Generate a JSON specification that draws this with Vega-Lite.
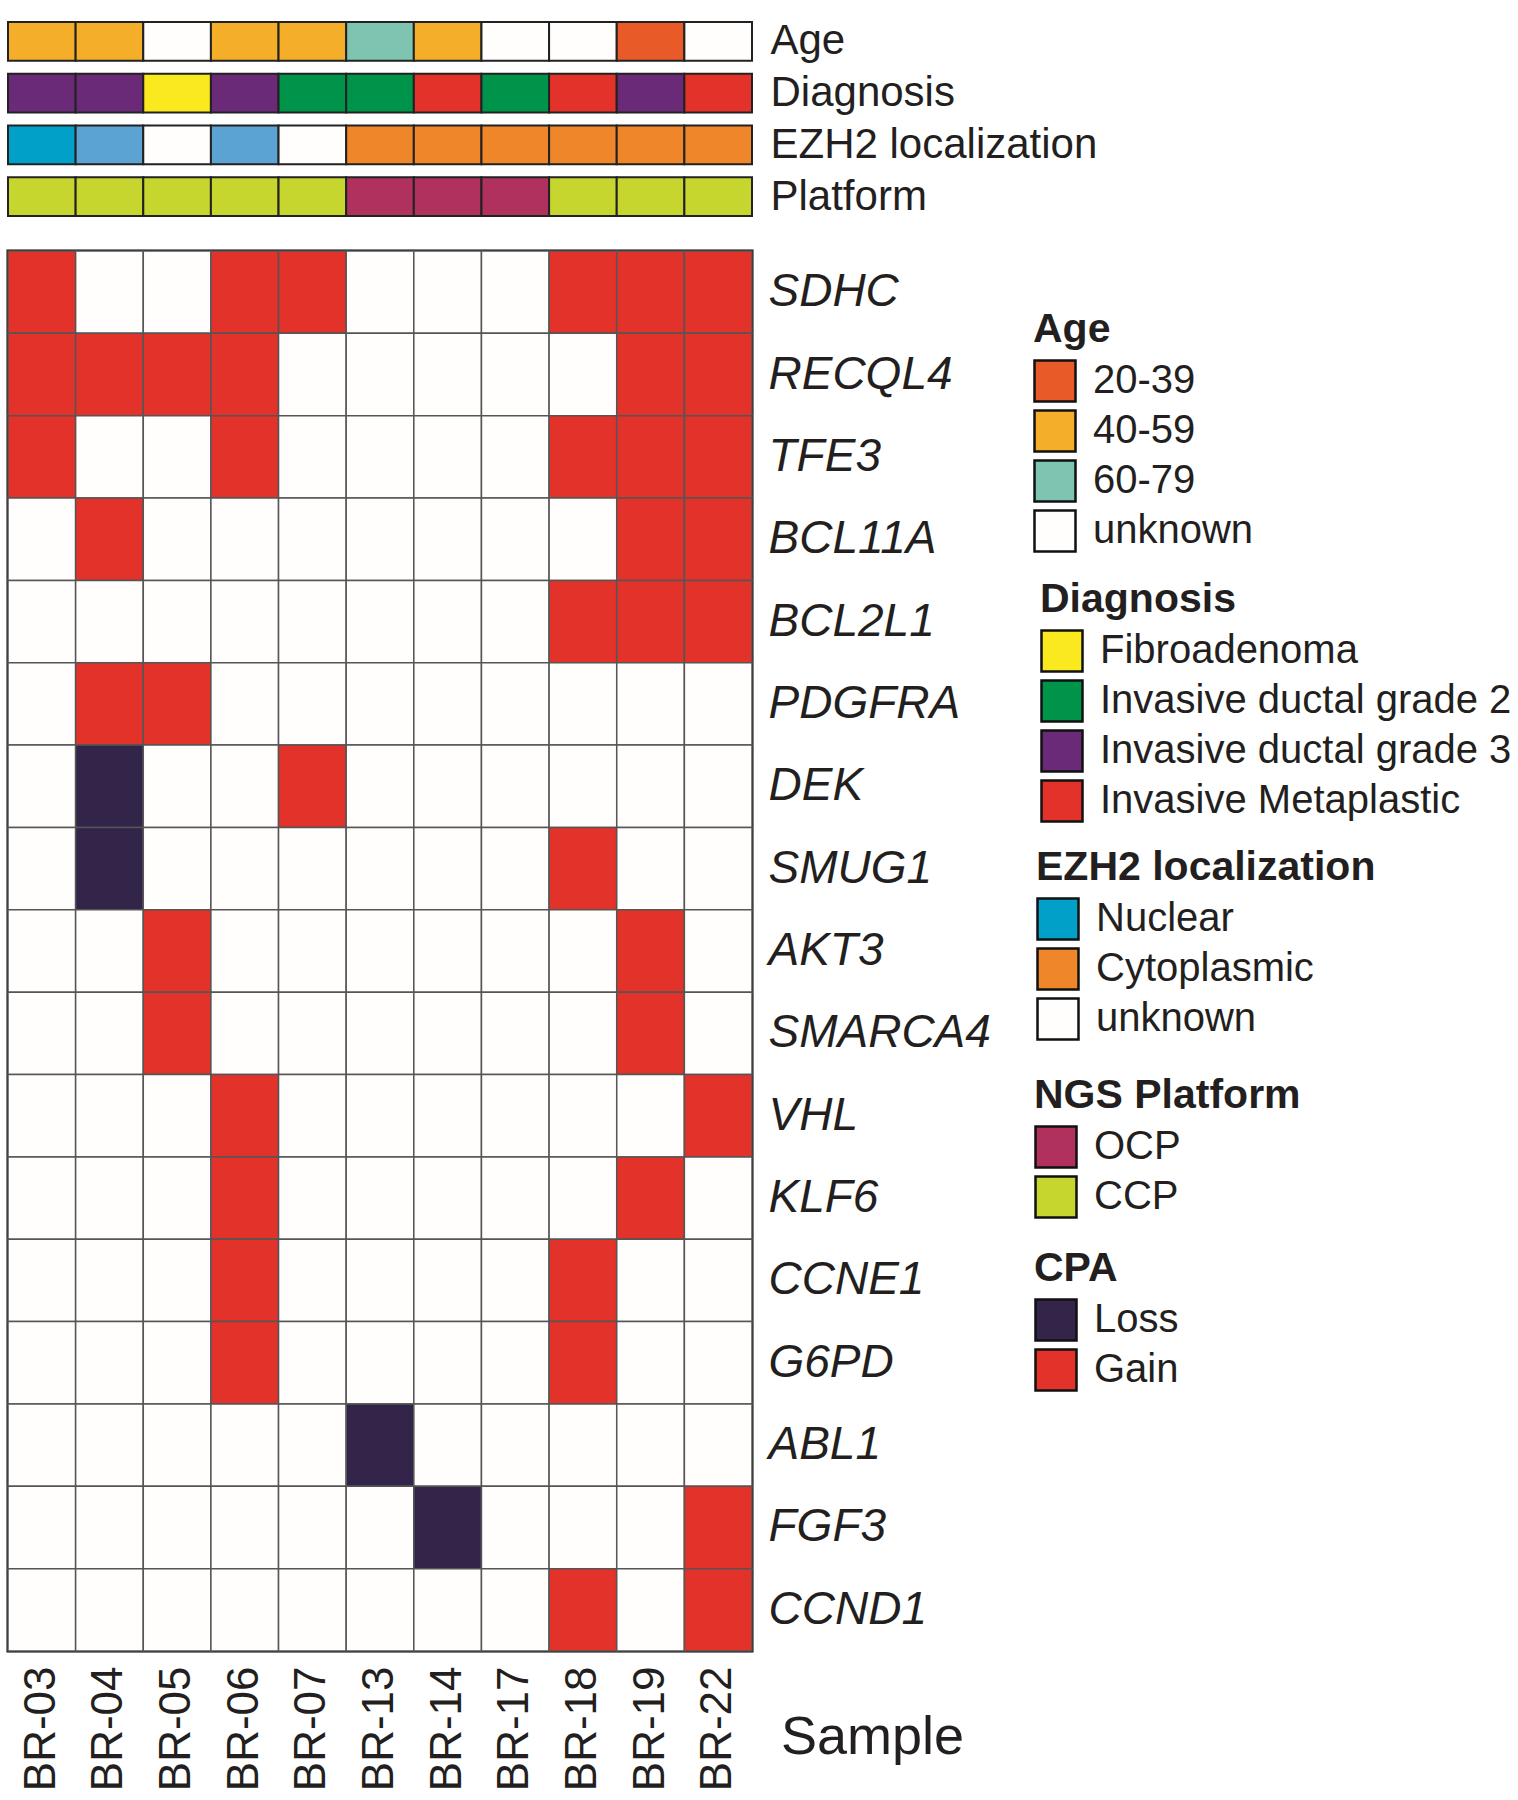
{
  "$schema": "https://vega.github.io/schema/vega-lite/v6.json",
  "background": "white",
  "padding": {"left": 5, "top": 19, "right": 0, "bottom": 0},
  "bounds": "flush",
  "spacing": 35,
  "config": {
    "font": "Liberation Sans",
    "view": {"stroke": null},
    "legend": {
      "titleFontSize": 41,
      "titleFontWeight": "bold",
      "titleColor": "#231f20",
      "labelFontSize": 40,
      "labelColor": "#231f20",
      "symbolType": "square",
      "symbolSize": 1681,
      "symbolStrokeColor": "#111111",
      "symbolStrokeWidth": 2.5,
      "symbolOpacity": 1,
      "labelOffset": 16,
      "rowPadding": -2,
      "titlePadding": 8,
      "labelLimit": 700,
      "titleLimit": 700,
      "padding": 0
    }
  },
  "resolve": {"scale": {"color": "independent"}},
  "vconcat": [
    {
      "width": 744,
      "height": 194,
      "data": {"values": [
        {"sample": "BR-03", "track": "Age", "status": "40-59"},
        {"sample": "BR-04", "track": "Age", "status": "40-59"},
        {"sample": "BR-05", "track": "Age", "status": "unknown"},
        {"sample": "BR-06", "track": "Age", "status": "40-59"},
        {"sample": "BR-07", "track": "Age", "status": "40-59"},
        {"sample": "BR-13", "track": "Age", "status": "60-79"},
        {"sample": "BR-14", "track": "Age", "status": "40-59"},
        {"sample": "BR-17", "track": "Age", "status": "unknown"},
        {"sample": "BR-18", "track": "Age", "status": "unknown"},
        {"sample": "BR-19", "track": "Age", "status": "20-39"},
        {"sample": "BR-22", "track": "Age", "status": "unknown"},
        {"sample": "BR-03", "track": "Diagnosis", "status": "Invasive ductal grade 3"},
        {"sample": "BR-04", "track": "Diagnosis", "status": "Invasive ductal grade 3"},
        {"sample": "BR-05", "track": "Diagnosis", "status": "Fibroadenoma"},
        {"sample": "BR-06", "track": "Diagnosis", "status": "Invasive ductal grade 3"},
        {"sample": "BR-07", "track": "Diagnosis", "status": "Invasive ductal grade 2"},
        {"sample": "BR-13", "track": "Diagnosis", "status": "Invasive ductal grade 2"},
        {"sample": "BR-14", "track": "Diagnosis", "status": "Invasive Metaplastic"},
        {"sample": "BR-17", "track": "Diagnosis", "status": "Invasive ductal grade 2"},
        {"sample": "BR-18", "track": "Diagnosis", "status": "Invasive Metaplastic"},
        {"sample": "BR-19", "track": "Diagnosis", "status": "Invasive ductal grade 3"},
        {"sample": "BR-22", "track": "Diagnosis", "status": "Invasive Metaplastic"},
        {"sample": "BR-03", "track": "EZH2 localization", "status": "Nuclear"},
        {"sample": "BR-04", "track": "EZH2 localization", "status": "Nuclear/Cytoplasmic"},
        {"sample": "BR-05", "track": "EZH2 localization", "status": "unknown"},
        {"sample": "BR-06", "track": "EZH2 localization", "status": "Nuclear/Cytoplasmic"},
        {"sample": "BR-07", "track": "EZH2 localization", "status": "unknown"},
        {"sample": "BR-13", "track": "EZH2 localization", "status": "Cytoplasmic"},
        {"sample": "BR-14", "track": "EZH2 localization", "status": "Cytoplasmic"},
        {"sample": "BR-17", "track": "EZH2 localization", "status": "Cytoplasmic"},
        {"sample": "BR-18", "track": "EZH2 localization", "status": "Cytoplasmic"},
        {"sample": "BR-19", "track": "EZH2 localization", "status": "Cytoplasmic"},
        {"sample": "BR-22", "track": "EZH2 localization", "status": "Cytoplasmic"},
        {"sample": "BR-03", "track": "Platform", "status": "CCP"},
        {"sample": "BR-04", "track": "Platform", "status": "CCP"},
        {"sample": "BR-05", "track": "Platform", "status": "CCP"},
        {"sample": "BR-06", "track": "Platform", "status": "CCP"},
        {"sample": "BR-07", "track": "Platform", "status": "CCP"},
        {"sample": "BR-13", "track": "Platform", "status": "OCP"},
        {"sample": "BR-14", "track": "Platform", "status": "OCP"},
        {"sample": "BR-17", "track": "Platform", "status": "OCP"},
        {"sample": "BR-18", "track": "Platform", "status": "CCP"},
        {"sample": "BR-19", "track": "Platform", "status": "CCP"},
        {"sample": "BR-22", "track": "Platform", "status": "CCP"}
      ]},
      "encoding": {
        "x": {"field": "sample", "type": "nominal", "sort": ["BR-03","BR-04","BR-05","BR-06","BR-07","BR-13","BR-14","BR-17","BR-18","BR-19","BR-22"], "axis": null, "scale": {"paddingInner": 0, "paddingOuter": 0}},
        "y": {"field": "track", "type": "nominal", "sort": ["Age","Diagnosis","EZH2 localization","Platform"], "scale": {"paddingInner": 0.25, "paddingOuter": 0},
          "axis": {"orient": "right", "title": null, "domain": false, "ticks": false, "labelFontSize": 42, "labelPadding": 18, "labelColor": "#231f20", "labelLimit": 500}}
      },
      "layer": [
        {
          "transform": [{"filter": "datum.track === 'Age'"}],
          "mark": {"type": "rect", "stroke": "#222222", "strokeWidth": 2},
          "encoding": {"color": {"field": "status", "type": "nominal",
            "scale": {"domain": ["20-39","40-59","60-79","unknown"], "range": ["#e85b29","#f4ae2a","#7fc4b0","#fffefc"]},
            "legend": {"title": "Age", "orient": "none", "legendX": 1025, "legendY": 288}}}
        },
        {
          "transform": [{"filter": "datum.track === 'Diagnosis'"}],
          "mark": {"type": "rect", "stroke": "#222222", "strokeWidth": 2},
          "encoding": {"color": {"field": "status", "type": "nominal",
            "scale": {"domain": ["Fibroadenoma","Invasive ductal grade 2","Invasive ductal grade 3","Invasive Metaplastic"], "range": ["#fbe91f","#00934a","#6b2a78","#e2322a"]},
            "legend": {"title": "Diagnosis", "orient": "none", "legendX": 1032, "legendY": 558}}}
        },
        {
          "transform": [{"filter": "datum.track === 'EZH2 localization'"}],
          "mark": {"type": "rect", "stroke": "#222222", "strokeWidth": 2},
          "encoding": {"color": {"field": "status", "type": "nominal",
            "scale": {"domain": ["Nuclear","Cytoplasmic","unknown","Nuclear/Cytoplasmic"], "range": ["#00a0c8","#ef8629","#fffefc","#5aa3d3"]},
            "legend": {"title": "EZH2 localization", "values": ["Nuclear","Cytoplasmic","unknown"], "orient": "none", "legendX": 1028, "legendY": 826}}}
        },
        {
          "transform": [{"filter": "datum.track === 'Platform'"}],
          "mark": {"type": "rect", "stroke": "#222222", "strokeWidth": 2},
          "encoding": {"color": {"field": "status", "type": "nominal",
            "scale": {"domain": ["OCP","CCP"], "range": ["#b0305e","#c6d62e"]},
            "legend": {"title": "NGS Platform", "orient": "none", "legendX": 1026, "legendY": 1054}}}
        }
      ],
      "resolve": {"scale": {"color": "independent"}}
    },
    {
      "width": 744,
      "height": 1400,
      "view": {"stroke": "#000000", "strokeWidth": 3},
      "data": {"values": [
        {"gene": "SDHC", "sample": "BR-03", "cpa": "Gain"},
        {"gene": "SDHC", "sample": "BR-04", "cpa": "None"},
        {"gene": "SDHC", "sample": "BR-05", "cpa": "None"},
        {"gene": "SDHC", "sample": "BR-06", "cpa": "Gain"},
        {"gene": "SDHC", "sample": "BR-07", "cpa": "Gain"},
        {"gene": "SDHC", "sample": "BR-13", "cpa": "None"},
        {"gene": "SDHC", "sample": "BR-14", "cpa": "None"},
        {"gene": "SDHC", "sample": "BR-17", "cpa": "None"},
        {"gene": "SDHC", "sample": "BR-18", "cpa": "Gain"},
        {"gene": "SDHC", "sample": "BR-19", "cpa": "Gain"},
        {"gene": "SDHC", "sample": "BR-22", "cpa": "Gain"},
        {"gene": "RECQL4", "sample": "BR-03", "cpa": "Gain"},
        {"gene": "RECQL4", "sample": "BR-04", "cpa": "Gain"},
        {"gene": "RECQL4", "sample": "BR-05", "cpa": "Gain"},
        {"gene": "RECQL4", "sample": "BR-06", "cpa": "Gain"},
        {"gene": "RECQL4", "sample": "BR-07", "cpa": "None"},
        {"gene": "RECQL4", "sample": "BR-13", "cpa": "None"},
        {"gene": "RECQL4", "sample": "BR-14", "cpa": "None"},
        {"gene": "RECQL4", "sample": "BR-17", "cpa": "None"},
        {"gene": "RECQL4", "sample": "BR-18", "cpa": "None"},
        {"gene": "RECQL4", "sample": "BR-19", "cpa": "Gain"},
        {"gene": "RECQL4", "sample": "BR-22", "cpa": "Gain"},
        {"gene": "TFE3", "sample": "BR-03", "cpa": "Gain"},
        {"gene": "TFE3", "sample": "BR-04", "cpa": "None"},
        {"gene": "TFE3", "sample": "BR-05", "cpa": "None"},
        {"gene": "TFE3", "sample": "BR-06", "cpa": "Gain"},
        {"gene": "TFE3", "sample": "BR-07", "cpa": "None"},
        {"gene": "TFE3", "sample": "BR-13", "cpa": "None"},
        {"gene": "TFE3", "sample": "BR-14", "cpa": "None"},
        {"gene": "TFE3", "sample": "BR-17", "cpa": "None"},
        {"gene": "TFE3", "sample": "BR-18", "cpa": "Gain"},
        {"gene": "TFE3", "sample": "BR-19", "cpa": "Gain"},
        {"gene": "TFE3", "sample": "BR-22", "cpa": "Gain"},
        {"gene": "BCL11A", "sample": "BR-03", "cpa": "None"},
        {"gene": "BCL11A", "sample": "BR-04", "cpa": "Gain"},
        {"gene": "BCL11A", "sample": "BR-05", "cpa": "None"},
        {"gene": "BCL11A", "sample": "BR-06", "cpa": "None"},
        {"gene": "BCL11A", "sample": "BR-07", "cpa": "None"},
        {"gene": "BCL11A", "sample": "BR-13", "cpa": "None"},
        {"gene": "BCL11A", "sample": "BR-14", "cpa": "None"},
        {"gene": "BCL11A", "sample": "BR-17", "cpa": "None"},
        {"gene": "BCL11A", "sample": "BR-18", "cpa": "None"},
        {"gene": "BCL11A", "sample": "BR-19", "cpa": "Gain"},
        {"gene": "BCL11A", "sample": "BR-22", "cpa": "Gain"},
        {"gene": "BCL2L1", "sample": "BR-03", "cpa": "None"},
        {"gene": "BCL2L1", "sample": "BR-04", "cpa": "None"},
        {"gene": "BCL2L1", "sample": "BR-05", "cpa": "None"},
        {"gene": "BCL2L1", "sample": "BR-06", "cpa": "None"},
        {"gene": "BCL2L1", "sample": "BR-07", "cpa": "None"},
        {"gene": "BCL2L1", "sample": "BR-13", "cpa": "None"},
        {"gene": "BCL2L1", "sample": "BR-14", "cpa": "None"},
        {"gene": "BCL2L1", "sample": "BR-17", "cpa": "None"},
        {"gene": "BCL2L1", "sample": "BR-18", "cpa": "Gain"},
        {"gene": "BCL2L1", "sample": "BR-19", "cpa": "Gain"},
        {"gene": "BCL2L1", "sample": "BR-22", "cpa": "Gain"},
        {"gene": "PDGFRA", "sample": "BR-03", "cpa": "None"},
        {"gene": "PDGFRA", "sample": "BR-04", "cpa": "Gain"},
        {"gene": "PDGFRA", "sample": "BR-05", "cpa": "Gain"},
        {"gene": "PDGFRA", "sample": "BR-06", "cpa": "None"},
        {"gene": "PDGFRA", "sample": "BR-07", "cpa": "None"},
        {"gene": "PDGFRA", "sample": "BR-13", "cpa": "None"},
        {"gene": "PDGFRA", "sample": "BR-14", "cpa": "None"},
        {"gene": "PDGFRA", "sample": "BR-17", "cpa": "None"},
        {"gene": "PDGFRA", "sample": "BR-18", "cpa": "None"},
        {"gene": "PDGFRA", "sample": "BR-19", "cpa": "None"},
        {"gene": "PDGFRA", "sample": "BR-22", "cpa": "None"},
        {"gene": "DEK", "sample": "BR-03", "cpa": "None"},
        {"gene": "DEK", "sample": "BR-04", "cpa": "Loss"},
        {"gene": "DEK", "sample": "BR-05", "cpa": "None"},
        {"gene": "DEK", "sample": "BR-06", "cpa": "None"},
        {"gene": "DEK", "sample": "BR-07", "cpa": "Gain"},
        {"gene": "DEK", "sample": "BR-13", "cpa": "None"},
        {"gene": "DEK", "sample": "BR-14", "cpa": "None"},
        {"gene": "DEK", "sample": "BR-17", "cpa": "None"},
        {"gene": "DEK", "sample": "BR-18", "cpa": "None"},
        {"gene": "DEK", "sample": "BR-19", "cpa": "None"},
        {"gene": "DEK", "sample": "BR-22", "cpa": "None"},
        {"gene": "SMUG1", "sample": "BR-03", "cpa": "None"},
        {"gene": "SMUG1", "sample": "BR-04", "cpa": "Loss"},
        {"gene": "SMUG1", "sample": "BR-05", "cpa": "None"},
        {"gene": "SMUG1", "sample": "BR-06", "cpa": "None"},
        {"gene": "SMUG1", "sample": "BR-07", "cpa": "None"},
        {"gene": "SMUG1", "sample": "BR-13", "cpa": "None"},
        {"gene": "SMUG1", "sample": "BR-14", "cpa": "None"},
        {"gene": "SMUG1", "sample": "BR-17", "cpa": "None"},
        {"gene": "SMUG1", "sample": "BR-18", "cpa": "Gain"},
        {"gene": "SMUG1", "sample": "BR-19", "cpa": "None"},
        {"gene": "SMUG1", "sample": "BR-22", "cpa": "None"},
        {"gene": "AKT3", "sample": "BR-03", "cpa": "None"},
        {"gene": "AKT3", "sample": "BR-04", "cpa": "None"},
        {"gene": "AKT3", "sample": "BR-05", "cpa": "Gain"},
        {"gene": "AKT3", "sample": "BR-06", "cpa": "None"},
        {"gene": "AKT3", "sample": "BR-07", "cpa": "None"},
        {"gene": "AKT3", "sample": "BR-13", "cpa": "None"},
        {"gene": "AKT3", "sample": "BR-14", "cpa": "None"},
        {"gene": "AKT3", "sample": "BR-17", "cpa": "None"},
        {"gene": "AKT3", "sample": "BR-18", "cpa": "None"},
        {"gene": "AKT3", "sample": "BR-19", "cpa": "Gain"},
        {"gene": "AKT3", "sample": "BR-22", "cpa": "None"},
        {"gene": "SMARCA4", "sample": "BR-03", "cpa": "None"},
        {"gene": "SMARCA4", "sample": "BR-04", "cpa": "None"},
        {"gene": "SMARCA4", "sample": "BR-05", "cpa": "Gain"},
        {"gene": "SMARCA4", "sample": "BR-06", "cpa": "None"},
        {"gene": "SMARCA4", "sample": "BR-07", "cpa": "None"},
        {"gene": "SMARCA4", "sample": "BR-13", "cpa": "None"},
        {"gene": "SMARCA4", "sample": "BR-14", "cpa": "None"},
        {"gene": "SMARCA4", "sample": "BR-17", "cpa": "None"},
        {"gene": "SMARCA4", "sample": "BR-18", "cpa": "None"},
        {"gene": "SMARCA4", "sample": "BR-19", "cpa": "Gain"},
        {"gene": "SMARCA4", "sample": "BR-22", "cpa": "None"},
        {"gene": "VHL", "sample": "BR-03", "cpa": "None"},
        {"gene": "VHL", "sample": "BR-04", "cpa": "None"},
        {"gene": "VHL", "sample": "BR-05", "cpa": "None"},
        {"gene": "VHL", "sample": "BR-06", "cpa": "Gain"},
        {"gene": "VHL", "sample": "BR-07", "cpa": "None"},
        {"gene": "VHL", "sample": "BR-13", "cpa": "None"},
        {"gene": "VHL", "sample": "BR-14", "cpa": "None"},
        {"gene": "VHL", "sample": "BR-17", "cpa": "None"},
        {"gene": "VHL", "sample": "BR-18", "cpa": "None"},
        {"gene": "VHL", "sample": "BR-19", "cpa": "None"},
        {"gene": "VHL", "sample": "BR-22", "cpa": "Gain"},
        {"gene": "KLF6", "sample": "BR-03", "cpa": "None"},
        {"gene": "KLF6", "sample": "BR-04", "cpa": "None"},
        {"gene": "KLF6", "sample": "BR-05", "cpa": "None"},
        {"gene": "KLF6", "sample": "BR-06", "cpa": "Gain"},
        {"gene": "KLF6", "sample": "BR-07", "cpa": "None"},
        {"gene": "KLF6", "sample": "BR-13", "cpa": "None"},
        {"gene": "KLF6", "sample": "BR-14", "cpa": "None"},
        {"gene": "KLF6", "sample": "BR-17", "cpa": "None"},
        {"gene": "KLF6", "sample": "BR-18", "cpa": "None"},
        {"gene": "KLF6", "sample": "BR-19", "cpa": "Gain"},
        {"gene": "KLF6", "sample": "BR-22", "cpa": "None"},
        {"gene": "CCNE1", "sample": "BR-03", "cpa": "None"},
        {"gene": "CCNE1", "sample": "BR-04", "cpa": "None"},
        {"gene": "CCNE1", "sample": "BR-05", "cpa": "None"},
        {"gene": "CCNE1", "sample": "BR-06", "cpa": "Gain"},
        {"gene": "CCNE1", "sample": "BR-07", "cpa": "None"},
        {"gene": "CCNE1", "sample": "BR-13", "cpa": "None"},
        {"gene": "CCNE1", "sample": "BR-14", "cpa": "None"},
        {"gene": "CCNE1", "sample": "BR-17", "cpa": "None"},
        {"gene": "CCNE1", "sample": "BR-18", "cpa": "Gain"},
        {"gene": "CCNE1", "sample": "BR-19", "cpa": "None"},
        {"gene": "CCNE1", "sample": "BR-22", "cpa": "None"},
        {"gene": "G6PD", "sample": "BR-03", "cpa": "None"},
        {"gene": "G6PD", "sample": "BR-04", "cpa": "None"},
        {"gene": "G6PD", "sample": "BR-05", "cpa": "None"},
        {"gene": "G6PD", "sample": "BR-06", "cpa": "Gain"},
        {"gene": "G6PD", "sample": "BR-07", "cpa": "None"},
        {"gene": "G6PD", "sample": "BR-13", "cpa": "None"},
        {"gene": "G6PD", "sample": "BR-14", "cpa": "None"},
        {"gene": "G6PD", "sample": "BR-17", "cpa": "None"},
        {"gene": "G6PD", "sample": "BR-18", "cpa": "Gain"},
        {"gene": "G6PD", "sample": "BR-19", "cpa": "None"},
        {"gene": "G6PD", "sample": "BR-22", "cpa": "None"},
        {"gene": "ABL1", "sample": "BR-03", "cpa": "None"},
        {"gene": "ABL1", "sample": "BR-04", "cpa": "None"},
        {"gene": "ABL1", "sample": "BR-05", "cpa": "None"},
        {"gene": "ABL1", "sample": "BR-06", "cpa": "None"},
        {"gene": "ABL1", "sample": "BR-07", "cpa": "None"},
        {"gene": "ABL1", "sample": "BR-13", "cpa": "Loss"},
        {"gene": "ABL1", "sample": "BR-14", "cpa": "None"},
        {"gene": "ABL1", "sample": "BR-17", "cpa": "None"},
        {"gene": "ABL1", "sample": "BR-18", "cpa": "None"},
        {"gene": "ABL1", "sample": "BR-19", "cpa": "None"},
        {"gene": "ABL1", "sample": "BR-22", "cpa": "None"},
        {"gene": "FGF3", "sample": "BR-03", "cpa": "None"},
        {"gene": "FGF3", "sample": "BR-04", "cpa": "None"},
        {"gene": "FGF3", "sample": "BR-05", "cpa": "None"},
        {"gene": "FGF3", "sample": "BR-06", "cpa": "None"},
        {"gene": "FGF3", "sample": "BR-07", "cpa": "None"},
        {"gene": "FGF3", "sample": "BR-13", "cpa": "None"},
        {"gene": "FGF3", "sample": "BR-14", "cpa": "Loss"},
        {"gene": "FGF3", "sample": "BR-17", "cpa": "None"},
        {"gene": "FGF3", "sample": "BR-18", "cpa": "None"},
        {"gene": "FGF3", "sample": "BR-19", "cpa": "None"},
        {"gene": "FGF3", "sample": "BR-22", "cpa": "Gain"},
        {"gene": "CCND1", "sample": "BR-03", "cpa": "None"},
        {"gene": "CCND1", "sample": "BR-04", "cpa": "None"},
        {"gene": "CCND1", "sample": "BR-05", "cpa": "None"},
        {"gene": "CCND1", "sample": "BR-06", "cpa": "None"},
        {"gene": "CCND1", "sample": "BR-07", "cpa": "None"},
        {"gene": "CCND1", "sample": "BR-13", "cpa": "None"},
        {"gene": "CCND1", "sample": "BR-14", "cpa": "None"},
        {"gene": "CCND1", "sample": "BR-17", "cpa": "None"},
        {"gene": "CCND1", "sample": "BR-18", "cpa": "Gain"},
        {"gene": "CCND1", "sample": "BR-19", "cpa": "None"},
        {"gene": "CCND1", "sample": "BR-22", "cpa": "Gain"}
      ]},
      "mark": {"type": "rect", "stroke": "#555555", "strokeWidth": 1.5},
      "encoding": {
        "x": {"field": "sample", "type": "nominal", "sort": ["BR-03","BR-04","BR-05","BR-06","BR-07","BR-13","BR-14","BR-17","BR-18","BR-19","BR-22"], "scale": {"paddingInner": 0, "paddingOuter": 0},
          "axis": {"orient": "bottom", "labelAngle": -90, "labelFontSize": 44, "labelPadding": 15, "labelColor": "#231f20", "domain": false, "ticks": false,
            "title": "Sample", "titleFontSize": 54, "titleFontWeight": "normal", "titleColor": "#231f20", "titleAngle": 0, "titleX": 864, "titleY": 86, "titleAlign": "center", "titleBaseline": "middle"}},
        "y": {"field": "gene", "type": "nominal", "sort": ["SDHC","RECQL4","TFE3","BCL11A","BCL2L1","PDGFRA","DEK","SMUG1","AKT3","SMARCA4","VHL","KLF6","CCNE1","G6PD","ABL1","FGF3","CCND1"], "scale": {"paddingInner": 0, "paddingOuter": 0},
          "axis": {"orient": "right", "title": null, "labelFontSize": 46, "labelFontStyle": "italic", "labelPadding": 16, "labelColor": "#231f20", "domain": false, "ticks": false, "labelLimit": 500}},
        "color": {"field": "cpa", "type": "nominal",
          "scale": {"domain": ["Loss","Gain","None"], "range": ["#33244a","#e2322a","#fffefc"]},
          "legend": {"title": "CPA", "values": ["Loss","Gain"], "orient": "none", "legendX": 1026, "legendY": 998}}
      }
    }
  ]
}
